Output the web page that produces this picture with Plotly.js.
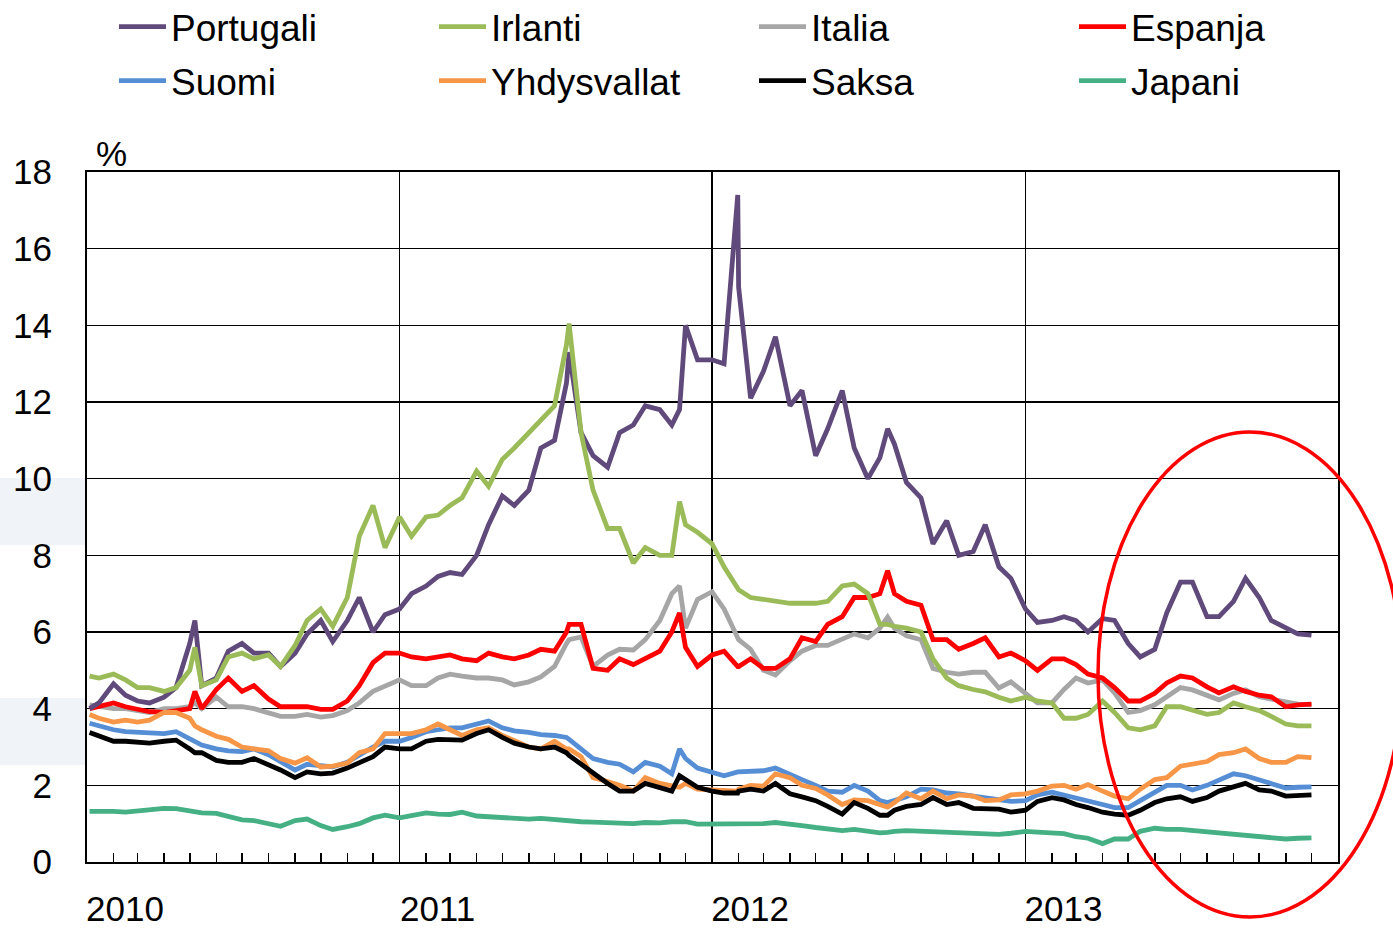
<!DOCTYPE html>
<html>
<head>
<meta charset="utf-8">
<script src="https://cdn.plot.ly/plotly-3.0.1.min.js"></script>
<style>html,body{margin:0;padding:0;background:#fff;}#chart{width:1393px;height:929px;}</style>
</head>
<body>
<div id="chart"></div>
<script>
const dates = [
 '2010-01-04','2010-01-15','2010-02-01','2010-02-15','2010-03-01','2010-03-15','2010-04-01','2010-04-15','2010-05-01','2010-05-07','2010-05-15','2010-06-01','2010-06-15','2010-07-01','2010-07-15','2010-08-01','2010-08-15','2010-09-01','2010-09-15','2010-10-01','2010-10-15','2010-11-01','2010-11-15','2010-12-01','2010-12-15',
 '2011-01-01','2011-01-15','2011-02-01','2011-02-15','2011-03-01','2011-03-15','2011-04-01','2011-04-15','2011-05-01','2011-05-15','2011-06-01','2011-06-15','2011-07-01','2011-07-15','2011-07-18','2011-08-01','2011-08-15','2011-09-01','2011-09-15','2011-10-01','2011-10-15','2011-11-01','2011-11-15','2011-11-24','2011-12-01','2011-12-15',
 '2012-01-01','2012-01-15','2012-01-31','2012-02-01','2012-02-15','2012-03-01','2012-03-15','2012-04-01','2012-04-15','2012-05-01','2012-05-15','2012-06-01','2012-06-15','2012-07-01','2012-07-15','2012-07-24','2012-08-01','2012-08-15','2012-09-01','2012-09-15','2012-10-01','2012-10-15','2012-11-01','2012-11-15','2012-12-01','2012-12-15',
 '2013-01-01','2013-01-15','2013-02-01','2013-02-15','2013-03-01','2013-03-15','2013-04-01','2013-04-15','2013-05-01','2013-05-15','2013-06-01','2013-06-15','2013-07-01','2013-07-15','2013-08-01','2013-08-15','2013-09-01','2013-09-15','2013-10-01','2013-10-15','2013-11-01','2013-11-15','2013-12-01'
];

const portugali = [
 4.00,4.15,4.65,4.35,4.20,4.15,4.30,4.55,5.70,6.30,4.60,4.80,5.50,5.70,5.45,5.45,5.10,5.45,5.95,6.30,5.75,6.30,6.90,6.00,6.45,
 6.60,7.00,7.20,7.45,7.55,7.50,8.00,8.80,9.55,9.30,9.70,10.80,11.00,12.50,13.30,11.20,10.60,10.30,11.20,11.40,11.90,11.80,11.40,11.80,14.00,13.10,
 13.10,13.00,17.40,15.00,12.10,12.80,13.70,11.90,12.30,10.60,11.30,12.30,10.80,10.00,10.55,11.30,10.90,9.90,9.50,8.30,8.90,8.00,8.10,8.80,7.70,7.40,
 6.60,6.25,6.30,6.40,6.30,6.00,6.35,6.30,5.70,5.35,5.55,6.50,7.30,7.30,6.40,6.40,6.80,7.40,6.90,6.30,6.10,5.95,5.92
];
const irlanti = [
 4.85,4.80,4.90,4.75,4.55,4.55,4.45,4.55,5.00,5.60,4.60,4.75,5.35,5.45,5.30,5.40,5.10,5.65,6.30,6.60,6.15,6.90,8.50,9.30,8.20,
 9.00,8.50,9.00,9.05,9.30,9.50,10.20,9.80,10.50,10.80,11.20,11.50,11.90,13.50,14.05,11.20,9.70,8.70,8.70,7.80,8.20,8.00,8.00,9.40,8.80,8.60,
 8.30,7.70,7.15,7.10,6.90,6.85,6.80,6.75,6.75,6.75,6.80,7.20,7.25,7.00,6.20,6.20,6.15,6.10,6.00,5.30,4.80,4.60,4.50,4.44,4.30,4.20,
 4.30,4.20,4.15,3.75,3.75,3.85,4.20,3.90,3.50,3.45,3.55,4.05,4.05,3.95,3.85,3.90,4.15,4.05,3.95,3.80,3.60,3.55,3.55
];
const italia = [
 4.10,4.05,4.00,4.00,3.95,3.90,4.00,4.00,4.05,4.15,4.00,4.30,4.05,4.05,4.00,3.90,3.80,3.80,3.85,3.78,3.82,3.95,4.15,4.45,4.60,
 4.75,4.60,4.60,4.80,4.90,4.85,4.80,4.80,4.75,4.62,4.70,4.83,5.10,5.70,5.80,5.87,5.10,5.40,5.55,5.53,5.80,6.30,7.00,7.20,6.10,6.85,
 7.05,6.60,5.80,5.80,5.55,5.00,4.88,5.25,5.50,5.65,5.65,5.80,5.95,5.85,6.10,6.39,6.10,5.90,5.80,5.05,4.95,4.90,4.95,4.95,4.54,4.70,
 4.40,4.15,4.15,4.50,4.80,4.67,4.75,4.41,3.90,3.95,4.10,4.31,4.55,4.49,4.35,4.23,4.40,4.49,4.31,4.25,4.15,4.12,4.10
];
const espanja = [
 4.00,4.05,4.15,4.05,3.98,3.92,3.90,3.95,4.00,4.45,4.00,4.50,4.80,4.45,4.60,4.25,4.05,4.05,4.05,3.98,3.98,4.20,4.60,5.20,5.45,
 5.45,5.35,5.30,5.35,5.40,5.30,5.25,5.45,5.35,5.30,5.40,5.55,5.50,6.00,6.20,6.20,5.05,5.00,5.30,5.15,5.30,5.50,6.00,6.50,5.60,5.10,
 5.40,5.50,5.10,5.10,5.30,5.05,5.05,5.30,5.85,5.75,6.20,6.40,6.90,6.90,7.00,7.60,7.00,6.80,6.70,5.80,5.80,5.55,5.70,5.85,5.35,5.45,
 5.25,5.00,5.30,5.30,5.15,4.90,4.80,4.55,4.20,4.20,4.40,4.67,4.85,4.80,4.57,4.41,4.57,4.45,4.35,4.31,4.05,4.10,4.12
];
const suomi = [
 3.62,3.55,3.45,3.40,3.38,3.35,3.35,3.40,3.20,3.15,3.05,2.95,2.90,2.88,2.95,2.80,2.62,2.40,2.55,2.50,2.48,2.60,2.80,3.00,3.15,
 3.15,3.25,3.40,3.45,3.50,3.50,3.60,3.68,3.50,3.42,3.38,3.32,3.30,3.25,3.20,2.95,2.70,2.60,2.55,2.35,2.60,2.50,2.30,2.95,2.70,2.45,
 2.35,2.25,2.35,2.35,2.35,2.38,2.45,2.30,2.15,2.00,1.85,1.82,2.00,1.85,1.60,1.55,1.60,1.70,1.90,1.88,1.80,1.78,1.72,1.68,1.62,1.58,
 1.60,1.75,1.82,1.75,1.65,1.60,1.50,1.42,1.42,1.60,1.80,2.00,2.00,1.88,2.00,2.14,2.30,2.25,2.15,2.05,1.93,1.95,1.96
];
const yhdysvallat = [
 3.85,3.75,3.65,3.70,3.65,3.70,3.90,3.90,3.75,3.55,3.45,3.28,3.20,3.00,2.95,2.90,2.70,2.58,2.72,2.48,2.50,2.58,2.85,2.95,3.35,
 3.35,3.35,3.45,3.60,3.45,3.30,3.45,3.50,3.30,3.15,3.00,2.95,3.15,2.95,2.95,2.75,2.20,2.10,2.00,1.85,2.20,2.05,2.00,1.95,2.05,1.90,
 1.88,1.88,1.85,1.90,2.00,1.98,2.30,2.20,2.00,1.92,1.75,1.50,1.62,1.60,1.48,1.43,1.55,1.80,1.65,1.85,1.65,1.75,1.72,1.60,1.62,1.75,
 1.78,1.85,1.98,2.00,1.90,2.02,1.85,1.72,1.65,1.90,2.15,2.20,2.50,2.55,2.62,2.80,2.85,2.95,2.70,2.60,2.60,2.75,2.72
];
const saksa = [
 3.38,3.30,3.15,3.15,3.12,3.10,3.15,3.18,2.95,2.85,2.85,2.65,2.60,2.60,2.70,2.55,2.40,2.20,2.35,2.30,2.32,2.45,2.60,2.75,3.00,
 2.95,2.95,3.15,3.20,3.20,3.18,3.35,3.45,3.25,3.10,3.00,2.95,3.00,2.85,2.78,2.55,2.30,2.05,1.85,1.85,2.05,1.95,1.85,2.25,2.15,1.95,
 1.85,1.80,1.80,1.85,1.90,1.85,2.05,1.78,1.70,1.60,1.45,1.25,1.55,1.40,1.22,1.22,1.35,1.45,1.50,1.68,1.50,1.55,1.40,1.38,1.38,1.30,
 1.35,1.58,1.68,1.62,1.50,1.42,1.30,1.25,1.22,1.35,1.55,1.65,1.70,1.58,1.68,1.85,1.95,2.05,1.88,1.85,1.72,1.72,1.75
];
const japani = [
 1.32,1.33,1.32,1.30,1.33,1.35,1.40,1.39,1.33,1.30,1.28,1.27,1.20,1.10,1.08,1.00,0.93,1.08,1.12,0.95,0.85,0.92,1.00,1.15,1.22,
 1.15,1.20,1.28,1.25,1.24,1.30,1.20,1.18,1.15,1.13,1.12,1.14,1.10,1.08,1.08,1.05,1.04,1.02,1.02,1.00,1.03,1.02,1.05,1.05,1.05,0.99,
 0.99,0.98,0.97,0.97,0.98,1.00,1.03,1.00,0.95,0.90,0.86,0.82,0.85,0.80,0.76,0.77,0.80,0.82,0.80,0.80,0.78,0.78,0.75,0.73,0.72,0.75,
 0.80,0.78,0.76,0.74,0.66,0.62,0.48,0.60,0.60,0.80,0.88,0.85,0.85,0.82,0.78,0.77,0.72,0.70,0.66,0.64,0.60,0.62,0.63
];

const yearTicks = ['2010-01-01','2011-01-01','2012-01-01','2013-01-01'];
const yearLabels = ['2010','2011','2012','2013'];

const FONT = 'Liberation Sans, Arial, sans-serif';

// draw order (bottom -> top), legend column and rank within column
const series = [
  {name:'Italia',      y: italia,      color:'#A6A6A6', legend:'legend3', rank:1},
  {name:'Espanja',     y: espanja,     color:'#FF0000', legend:'legend4', rank:1},
  {name:'Portugali',   y: portugali,   color:'#604A7B', legend:'legend',  rank:1},
  {name:'Irlanti',     y: irlanti,     color:'#9BBB59', legend:'legend2', rank:1},
  {name:'Suomi',       y: suomi,       color:'#558ED5', legend:'legend',  rank:2},
  {name:'Yhdysvallat', y: yhdysvallat, color:'#F79646', legend:'legend2', rank:2},
  {name:'Saksa',       y: saksa,       color:'#000000', legend:'legend3', rank:2},
  {name:'Japani',      y: japani,      color:'#45B084', legend:'legend4', rank:2}
];

const traces = series.map(s => ({
  type:'scatter', mode:'lines', x: dates, y: s.y, name: s.name,
  line:{color:s.color, width:4.8},
  legend: s.legend, legendrank: s.rank, legendgroup: s.name,
  hoverinfo:'skip'
}));

function legendAt(xpx){
  return {
    x: (xpx - 87) / 1251, xanchor:'left',
    y: 1 + (172 + 4) / 690, yanchor:'top',
    orientation:'v', traceorder:'grouped', tracegroupgap: 3,
    bgcolor:'rgba(0,0,0,0)', borderwidth:0,
    font:{family:FONT, size:37, color:'#000'},
    itemwidth: 47
  };
}

const layout = {
  width:1393, height:929,
  margin:{l:87, r:55, t:172, b:67, autoexpand:false},
  paper_bgcolor:'#ffffff', plot_bgcolor:'#ffffff',
  font:{family:FONT, color:'#000'},
  showlegend:true,
  legend: legendAt(114),
  legend2: legendAt(434),
  legend3: legendAt(754),
  legend4: legendAt(1074),
  xaxis:{
    type:'date', range:['2010-01-01','2014-01-01'],
    tickmode:'array', tickvals: yearTicks, ticktext: yearLabels,
    showgrid:true, gridcolor:'#000', gridwidth:1.5,
    ticks:'inside', ticklen:9, tickwidth:1.5, tickcolor:'#000',
    minor:{dtick:'M1', tick0:'2010-01-01', ticks:'inside', ticklen:9, tickwidth:1.5, tickcolor:'#000', showgrid:false},
    showline:true, mirror:true, linecolor:'#000', linewidth:2,
    tickfont:{family:FONT, size:35, color:'#000'},
    ticklabelshift: 38, ticklabelstandoff: 15,
    zeroline:false, fixedrange:true
  },
  yaxis:{
    range:[0,18], dtick:2, tick0:0,
    showgrid:true, gridcolor:'#000', gridwidth:1.5,
    ticks:'', showline:true, mirror:true, linecolor:'#000', linewidth:2,
    tickfont:{family:FONT, size:35, color:'#000'},
    ticklabelstandoff: 26,
    zeroline:false, fixedrange:true
  },
  annotations:[
    {text:'%', xref:'paper', yref:'paper', x:(111-87)/1251, y:1 + (172-153)/690,
     xanchor:'center', yanchor:'middle', showarrow:false,
     font:{family:FONT, size:35, color:'#000'}}
  ],
  shapes:[
    {type:'rect', xref:'paper', yref:'paper', x0:-87/1251, x1:0, y0:(862-545)/690, y1:(862-478)/690,
     fillcolor:'#F0F3F7', line:{width:0}, layer:'below'},
    {type:'rect', xref:'paper', yref:'paper', x0:-87/1251, x1:0, y0:(862-765)/690, y1:(862-698)/690,
     fillcolor:'#F0F3F7', line:{width:0}, layer:'below'},
    {type:'circle', xref:'paper', yref:'paper',
     x0:(1098-87)/1251, x1:(1402-87)/1251, y0:(862-917)/690, y1:(862-432)/690,
     line:{color:'#FF0000', width:3.5}, fillcolor:'rgba(0,0,0,0)', layer:'above'}
  ]
};

Plotly.newPlot('chart', traces, layout, {staticPlot:true, displayModeBar:false});
</script>
</body>
</html>
